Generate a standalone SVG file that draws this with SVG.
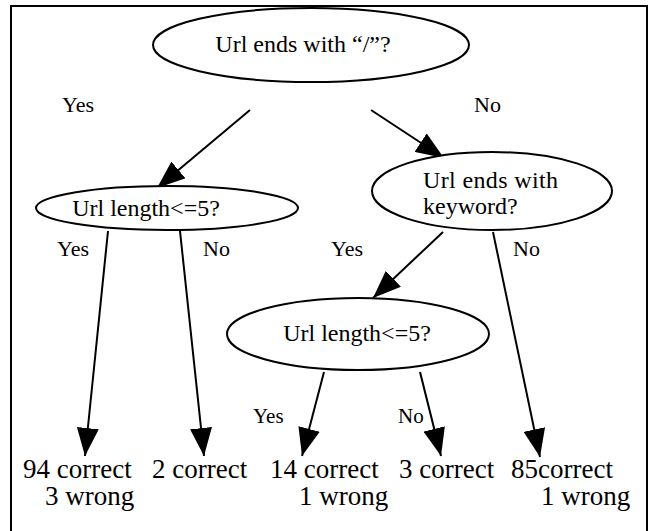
<svg xmlns="http://www.w3.org/2000/svg" width="650" height="531" viewBox="0 0 650 531">
<style>
.q{font-size:24px}
.l{font-size:22px}
.s{font-size:21px}
.r{font-size:27px}
.n{fill:#fff;stroke:#000;stroke-width:2}
.e{stroke:#000;stroke-width:2;fill:none;marker-end:url(#ah)}
</style>
<defs>
<marker id="ah" viewBox="0 0 28 22" refX="28" refY="11" markerWidth="28" markerHeight="22" markerUnits="userSpaceOnUse" orient="auto">
<path d="M0,0 L28,11 L0,22 Z" fill="#000"/>
</marker>
</defs>
<rect x="0" y="0" width="650" height="531" fill="#fff"/>
<rect x="11" y="6" width="636" height="540" fill="none" stroke="#000" stroke-width="2"/>
<g id="connectors">
<path class="e" d="M250,110 L157,188"/>
<path class="e" d="M371,110 L444,158"/>
<path class="e" d="M108,231 L85,456"/>
<path class="e" d="M180,231 L204,456"/>
<path class="e" d="M443,232 L373,298"/>
<path class="e" d="M493,232 L540,457"/>
<path class="e" d="M324,372 L302,456"/>
<path class="e" d="M420,372 L441,456"/>
</g>
<g font-family="Liberation Serif, Times New Roman, DejaVu Serif, serif" fill="#000">
<g id="edge-labels">
<text class="l" x="62" y="112">Yes</text>
<text class="l" x="474" y="112">No</text>
<text class="l" x="57" y="256">Yes</text>
<text class="l" x="203" y="256">No</text>
<text class="l" x="331" y="256">Yes</text>
<text class="l" x="513" y="256">No</text>
<text class="s" x="253" y="423">Yes</text>
<text class="s" x="398" y="423">No</text>
</g>
<g id="n-root">
<ellipse class="n" cx="311" cy="45" rx="158" ry="37"/>
<text class="q" x="303" y="52" text-anchor="middle">Url ends with “/”?</text>
</g>
<g id="n-len1">
<ellipse class="n" cx="167" cy="208" rx="131" ry="22"/>
<text class="q" x="146" y="216" text-anchor="middle">Url length&lt;=5?</text>
</g>
<g id="n-kw">
<ellipse class="n" cx="492" cy="191" rx="120" ry="39"/>
<text class="q" x="423" y="188" textLength="135" lengthAdjust="spacing">Url ends with</text>
<text class="q" x="423" y="214">keyword?</text>
</g>
<g id="n-len2">
<ellipse class="n" cx="358" cy="334" rx="131" ry="36"/>
<text class="q" x="357" y="341" text-anchor="middle">Url length&lt;=5?</text>
</g>
<g id="leaf1">
<text class="r" x="23" y="478">94 correct</text>
<text class="r" x="45" y="505">3 wrong</text>
</g>
<g id="leaf2">
<text class="r" x="152" y="478">2 correct</text>
</g>
<g id="leaf3">
<text class="r" x="270" y="478">14 correct</text>
<text class="r" x="299" y="505">1 wrong</text>
</g>
<g id="leaf4">
<text class="r" x="399" y="478">3 correct</text>
</g>
<g id="leaf5">
<text class="r" x="511" y="478">85correct</text>
<text class="r" x="541" y="505">1 wrong</text>
</g>
</g>
</svg>
